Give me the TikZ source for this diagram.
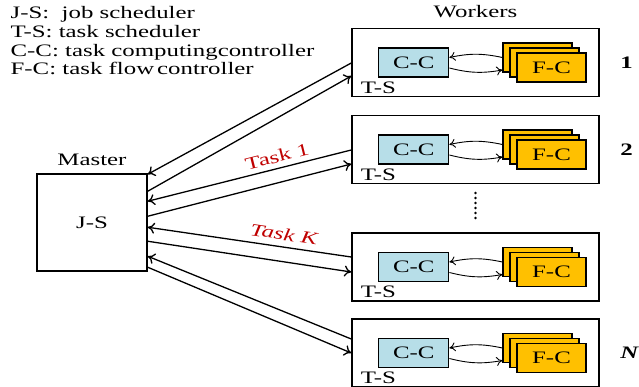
\documentclass[tikz,border=0pt]{standalone}
\usepackage{fontspec}
\setmainfont{Liberation Serif}[FakeStretch=1.42]
\usetikzlibrary{arrows.meta, positioning}

\definecolor{ccblue}{RGB}{183,222,232}
\definecolor{fcyellow}{RGB}{255,192,0}
\definecolor{taskred}{RGB}{192,0,0}

\begin{document}
\begin{tikzpicture}[
            x = 1pt, y = -1pt, % pixel-like units, y down
            > = {To[length=7pt, width=11pt]}, % arrow head style
            font = \fontsize{17.5}{19}\selectfont,
            line width = 1.3pt % line style
        ]

        \tikzset{
            box/.style = {draw = black, line width = 1.5pt, inner sep = 0pt},
            worker/.style = {box, minimum width = 247pt, minimum height = 68pt},
            ccbox/.style = {draw = black, line width = 1.1pt, fill = ccblue,
                minimum width = 70pt, minimum height = 29pt, inner sep = 0pt},
            fcbox/.style = {draw = black, line width = 1.1pt, fill = fcyellow,
                minimum width = 69pt, minimum height = 29pt, inner sep = 0pt},
            plain/.style = {inner sep = 0pt},
            task/.style = {text = taskred, sloped, inner sep = 0pt},
            inner/.style = {->, line width = 0.9pt, > = {To[length=6pt, width=9pt]}}
        }

        \useasboundingbox (0,0) rectangle (639,387);

        % legend
        \node[plain, anchor=base west] (l1) at (10,19) {J-S:\ \ job scheduler};
        \node[plain, anchor=base west] (l2) at (10,38) {T-S: task scheduler};
        \node[plain, anchor=base west] (l3) at (10,56.5) {C-C: task computingcontroller};
        \node[plain, anchor=base west] (l4) at (10,75) {F-C: task flow\,controller};

        % master
        \node[box, minimum width=110pt, minimum height=97pt] (master) at (92,222.5) {J-S};
        \node[plain, above=7pt of master] (mlabel) {Master};

        % workers
        \foreach \w/\yc in {1/62.5, 2/149.5, K/267, N/353} {
            \node[worker] (w\w) at (475.5,\yc) {};
            \node[ccbox, right=27pt of w\w.west] (cc\w) {C-C};
            \node[fcbox] (fca\w) at ([xshift=62pt, yshift=5pt]w\w.center) {};
            \node[fcbox] (fcb\w) at ([xshift=69pt]w\w.center) {};
            \node[fcbox] (fcc\w) at ([xshift=76pt, yshift=-5pt]w\w.center) {F-C};
            \node[plain, anchor=base west] (ts\w) at ([xshift=9pt, yshift=4pt]w\w.south west) {T-S};
            \draw[inner] (fca\w.west) to[bend right=12] ([yshift=5pt]cc\w.east);
            \draw[inner] ([yshift=-5.5pt]cc\w.east) to[bend right=12] ([yshift=-12.5pt]fca\w.west);
        }
        \node[plain, above=9pt of w1] (wlabel) {Workers};

        \node[plain, right=20pt of w1, font=\fontsize{17.5}{19}\selectfont\bfseries] (num1) {1};
        \node[plain, right=20pt of w2, font=\fontsize{17.5}{19}\selectfont\bfseries] (num2) {2};
        \node[plain, right=20pt of wN, font=\fontsize{17.5}{19}\selectfont\bfseries\itshape] (numN) {N};

        % vertical dots
        \foreach \d in {0,...,5}
            \fill (475.5,193+5*\d) circle (1.4pt);

        % master <-> workers
        \draw[<-] ([yshift=-1pt]master.north east) -- ([yshift=-0.5pt]w1.west);
        \draw[->] ([yshift=-18pt]master.north east) -- ([yshift=-13.5pt]w1.west);
        \draw[<-] ([yshift=-28pt]master.north east)
            -- node[task, pos=0.65, above=5pt] {Task 1} ([yshift=-0.5pt]w2.west);
        \draw[->] ([yshift=-43pt]master.north east) -- ([yshift=-14.5pt]w2.west);
        \draw[<-] ([yshift=-54pt]master.north east)
            -- node[task, pos=0.66, above=6pt] {\itshape Task K} ([yshift=10pt]wK.west);
        \draw[->] ([yshift=-68pt]master.north east) -- ([yshift=-5pt]wK.west);
        \draw[<-] ([yshift=-83pt]master.north east) -- ([yshift=14pt]wN.west);
        \draw[->] ([yshift=-94pt]master.north east) -- (wN.west);

\end{tikzpicture}
\end{document}
